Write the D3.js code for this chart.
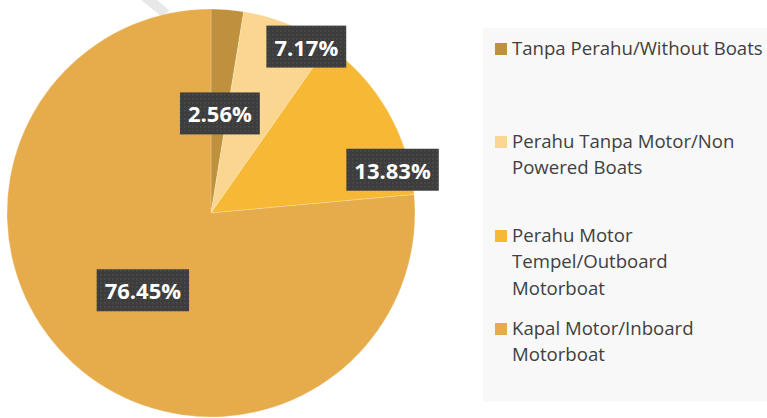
<!DOCTYPE html>
<html><head><meta charset="utf-8">
<script src="https://cdn.jsdelivr.net/npm/d3@7"></script>
<style>html,body{margin:0;padding:0;background:#fff;}svg{display:block;}</style>
</head><body>
<svg id="c" width="767" height="418"></svg>
<script>
const categories = ["Tanpa Perahu/Without Boats","Perahu Tanpa Motor/Non Powered Boats","Perahu Motor Tempel/Outboard Motorboat","Kapal Motor/Inboard Motorboat"];
const values = [2.56, 7.17, 13.83, 76.45];
const valueLabels = ["2.56%","7.17%","13.83%","76.45%"];
const legendLines = [["Tanpa Perahu/Without Boats"],["Perahu Tanpa Motor/Non","Powered Boats"],["Perahu Motor","Tempel/Outboard","Motorboat"],["Kapal Motor/Inboard","Motorboat"]];
const colors = ["#C0913D","#FAD690","#F7B935","#E6AB4B"];
// label placement (angle deg from 12 o'clock, fraction of radius)
const labelPlace = [{a:5.1,r:0.49},{a:29.8,r:0.94},{a:76.6,r:0.915},{a:221.4,r:0.505}];

const svg = d3.select("#c");
const cx = 211, cy = 213, R = 204;

const defs = svg.append("defs");
const pat = defs.append("pattern").attr("id","dots").attr("width",4).attr("height",4).attr("patternUnits","userSpaceOnUse");
pat.append("rect").attr("width",4).attr("height",4).attr("fill","#3d3d3d");
pat.append("rect").attr("x",1).attr("y",1).attr("width",1.6).attr("height",1.6).attr("fill","#4b4b4b");

// faint decorative band top-left
svg.append("line").attr("x1",143).attr("y1",-5).attr("x2",166).attr("y2",14)
  .attr("stroke","#e8e8e8").attr("stroke-width",10);

const pie = d3.pie().sort(null).value(d=>d)(values);
const arc = d3.arc().innerRadius(0).outerRadius(R);
const g = svg.append("g").attr("transform",`translate(${cx},${cy})`);
g.selectAll("path").data(pie).join("path")
  .attr("d",arc).attr("fill",(d,i)=>colors[i])
  .attr("stroke","#fff").attr("stroke-opacity",0.35).attr("stroke-width",0.6);

// labels
const lg = g.append("g");
pie.forEach((d,i)=>{
  const p = labelPlace[i];
  const ang = p.a*Math.PI/180;
  const x = Math.sin(ang)*R*p.r, y = -Math.cos(ang)*R*p.r;
  const t = lg.append("text").attr("x",x).attr("y",y).attr("text-anchor","middle")
    .attr("dominant-baseline","central")
    .attr("font-family","Open Sans, sans-serif").attr("font-weight","bold")
    .attr("font-size",22).attr("fill","#fff").text(valueLabels[i]);
  const w = t.node().getComputedTextLength();
  lg.insert("rect","text").attr("x",x-w/2-8).attr("y",y-21).attr("width",w+16).attr("height",42)
    .attr("fill","url(#dots)");
});

// legend
svg.append("rect").attr("x",483).attr("y",28).attr("width",284).attr("height",373).attr("fill","#f8f8f8");
const baselines = [55,148,242,335];
const leg = svg.append("g");
categories.forEach((c,i)=>{
  leg.append("rect").attr("x",495).attr("y",baselines[i]-12).attr("width",12).attr("height",12).attr("fill",colors[i]);
  const t = leg.append("text").attr("x",512).attr("y",baselines[i])
    .attr("font-family","Open Sans, sans-serif").attr("font-size",18.6).attr("fill","#404040");
  legendLines[i].forEach((l,j)=>{
    t.append("tspan").attr("x",512).attr("y",baselines[i]+j*26.3).text(l);
  });
});
</script>
</body></html>
